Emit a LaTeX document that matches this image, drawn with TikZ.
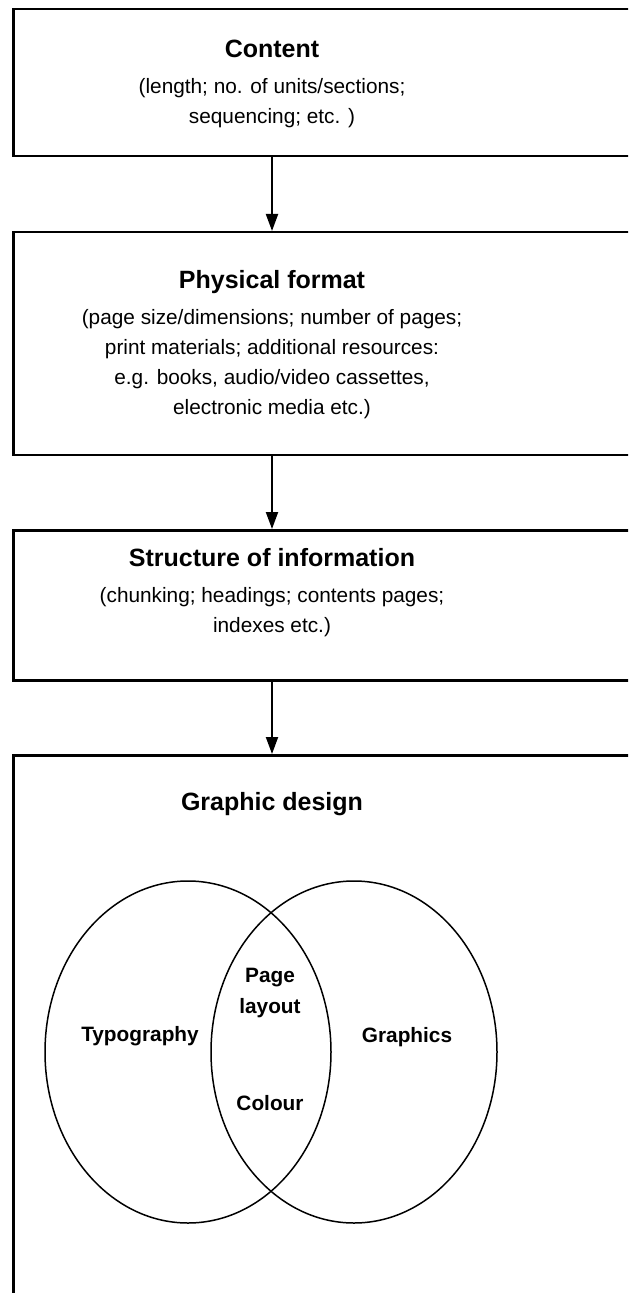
\documentclass[tikz,border=0pt]{standalone}
\usepackage{fontspec}
\setmainfont{Liberation Sans}
\usetikzlibrary{arrows.meta,shapes.geometric}
\newcommand{\boxhead}[1]{{\fontsize{12.5}{15}\selectfont\bfseries #1}\\[3pt]}

\begin{document}
\begin{tikzpicture}[x=0.5pt, y=-0.5pt,
 frame/.style={draw, line width=1.25pt, rectangle, anchor=north west, minimum width=324pt, inner sep=0pt},
 blurb/.style={align=center, font=\fontsize{10.4}{15}\selectfont, inner sep=0pt},
 venn/.style={draw, ellipse, line width=0.75pt, minimum width=143pt, minimum height=171pt, inner sep=0pt},
 tag/.style={align=center, font=\fontsize{10.4}{15.5}\selectfont\bfseries, inner sep=0pt},
 flow/.style={-{Triangle[width=6pt,length=8.5pt]}, line width=1pt}]

 \useasboundingbox (0,0) rectangle (628,1293);
 \clip (0,0) rectangle (628,1293);

 % the four stages
 \node[frame, minimum height=73.5pt] (content) at (12,8) {};
 \node[frame, minimum height=111.5pt] (format) at (12,231) {};
 \node[frame, minimum height=75pt] (structure) at (12,529) {};
 \node[frame, minimum height=300pt] (design) at (12,754) {};

 \node[blurb] (content-txt) at (272,83.5) {\boxhead{Content}(length; no. of units/sections;\\sequencing; etc. )};
 \node[blurb] (format-txt) at (272,345) {\boxhead{Physical format}(page size/dimensions; number of pages;\\print materials; additional resources:\\e.g. books, audio/video cassettes,\\electronic media etc.)};
 \node[blurb] (structure-txt) at (272,592.5) {\boxhead{Structure of information}(chunking; headings; contents pages;\\indexes etc.)};
 \node[blurb, font=\fontsize{12.5}{15}\selectfont\bfseries] (design-txt) at (272,804) {Graphic design};

 \draw[flow] (content.south -| content-txt) -- (format.north -| content-txt);
 \draw[flow] (format.south -| format-txt) -- (structure.north -| format-txt);
 \draw[flow] (structure.south -| structure-txt) -- (design.north -| structure-txt);

 % venn diagram
 \node[venn] (typo) at (188,1052) {};
 \node[venn] (graph) at (354,1052) {};
 \node[tag] (typo-txt) at (140,1036) {Typography};
 \node[tag] (graph-txt) at (407,1037) {Graphics};
 \node[tag] (layout-txt) at (270,992.5) {Page\\layout};
 \node[tag] (colour-txt) at (270,1103) {Colour};
\end{tikzpicture}
\end{document}
